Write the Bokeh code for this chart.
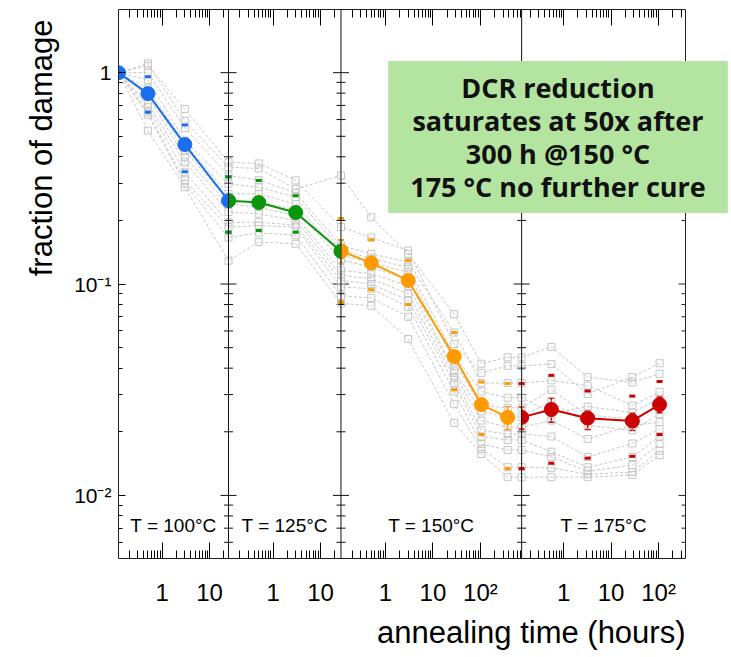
import math
from bokeh.plotting import figure
from bokeh.models import (Range1d, FixedTicker, LinearAxis, Span, Label, Title,
                          Whisker, ColumnDataSource, TeeHead)
from bokeh.embed import file_html
from bokeh.resources import INLINE

# ---------------- data ----------------
panel_labels = ["T = 100°C", "T = 125°C", "T = 150°C", "T = 175°C"]
panel_colors = ["#1a6ff0", "#0a960a", "#ff9a00", "#cc0000"]
panel_t_min = [0.12, 0.115, 0.115, 0.13]   # hours, start of each panel's time axis
panel_t_max = [25, 27, 740, 370]           # hours, end of each panel's time axis

# mean fraction of damage per temperature step (t = 0 is start of the step)
t100 = [0, 0.5, 3, 25]
m100 = [1.0, 0.796, 0.457, 0.248]
lo100 = [1.0, 0.77, 0.44, 0.238]
hi100 = [1.0, 0.82, 0.475, 0.258]
s_lo100 = [1.0, 0.649, 0.340, 0.176]
s_hi100 = [1.0, 0.957, 0.566, 0.322]

t125 = [0, 0.5, 3, 27]
m125 = [0.248, 0.243, 0.218, 0.143]
lo125 = [0.238, 0.234, 0.210, 0.125]
hi125 = [0.258, 0.253, 0.227, 0.162]
s_lo125 = [0.176, 0.179, 0.176, 0.082]
s_hi125 = [0.322, 0.309, 0.262, 0.204]

t150 = [0, 0.5, 3, 28, 105, 375]
m150 = [0.143, 0.126, 0.104, 0.0454, 0.0269, 0.0234]
lo150 = [0.125, 0.121, 0.100, 0.0430, 0.0255, 0.0205]
hi150 = [0.162, 0.131, 0.108, 0.0480, 0.0285, 0.0263]
s_lo150 = [0.082, 0.094, 0.080, 0.0316, 0.0194, 0.0134]
s_hi150 = [0.204, 0.162, 0.129, 0.059, 0.0344, 0.0338]

t175 = [0, 0.55, 3.2, 28, 105]
m175 = [0.0234, 0.0255, 0.0232, 0.0225, 0.0269]
lo175 = [0.0206, 0.0222, 0.0205, 0.0203, 0.0246]
hi175 = [0.0262, 0.0289, 0.0252, 0.0245, 0.0292]
s_lo175 = [0.0134, 0.0142, 0.0150, 0.0153, 0.0194]
s_hi175 = [0.0338, 0.0370, 0.0312, 0.0295, 0.0346]

# individual devices (grey): measurement stages
stage_panel = [0, 0, 0, 0, 1, 1, 1, 2, 2, 2, 2, 2, 3, 3, 3, 3, 3]
stage_time = [0, 0.5, 3, 25, 0.5, 3, 27, 0.5, 3, 28, 105, 375, 0, 0.55, 3.2, 28, 105]
dev01 = [1.0, 1.106, 0.593, 0.357, 0.352, 0.282, 0.326, 0.207, 0.139, 0.072, 0.042, 0.045, 0.045, 0.0504, 0.0363, 0.0343, 0.0376]
dev02 = [1.0, 1.079, 0.673, 0.377, 0.372, 0.309, 0.186, 0.166, 0.144, 0.052, 0.038, 0.041, 0.041, 0.0418, 0.0302, 0.0363, 0.0422]
dev03 = [1.0, 1.0, 0.548, 0.326, 0.310, 0.270, 0.152, 0.139, 0.127, 0.059, 0.034, 0.034, 0.034, 0.0350, 0.0331, 0.0266, 0.0309]
dev04 = [1.0, 0.924, 0.477, 0.298, 0.287, 0.258, 0.145, 0.132, 0.120, 0.046, 0.031, 0.029, 0.029, 0.0245, 0.0263, 0.0247, 0.0287]
dev05 = [1.0, 0.843, 0.460, 0.267, 0.267, 0.239, 0.137, 0.126, 0.114, 0.043, 0.0266, 0.026, 0.026, 0.0316, 0.0240, 0.0230, 0.0265]
dev06 = [1.0, 0.800, 0.428, 0.248, 0.245, 0.225, 0.130, 0.120, 0.105, 0.039, 0.025, 0.0235, 0.0235, 0.0280, 0.0215, 0.0203, 0.0243]
dev07 = [1.0, 0.778, 0.398, 0.239, 0.231, 0.210, 0.116, 0.112, 0.098, 0.038, 0.0226, 0.0210, 0.0210, 0.0226, 0.0185, 0.0215, 0.0222]
dev08 = [1.0, 0.713, 0.377, 0.219, 0.215, 0.200, 0.110, 0.106, 0.090, 0.036, 0.0203, 0.0195, 0.0195, 0.0190, 0.0152, 0.0176, 0.0206]
dev09 = [1.0, 0.686, 0.338, 0.196, 0.196, 0.190, 0.104, 0.100, 0.084, 0.034, 0.0190, 0.0183, 0.0183, 0.0161, 0.0136, 0.0152, 0.0190]
dev10 = [1.0, 0.649, 0.309, 0.186, 0.189, 0.186, 0.097, 0.095, 0.078, 0.031, 0.0175, 0.0164, 0.0164, 0.0152, 0.0130, 0.0139, 0.0175]
dev11 = [1.0, 0.633, 0.298, 0.166, 0.175, 0.170, 0.088, 0.086, 0.070, 0.027, 0.0166, 0.0136, 0.0136, 0.0135, 0.0126, 0.0129, 0.0163]
dev12 = [1.0, 0.532, 0.287, 0.129, 0.158, 0.155, 0.081, 0.079, 0.055, 0.022, 0.0157, 0.0122, 0.0122, 0.0122, 0.0122, 0.0125, 0.0155]

x_tick_values = [1, 10, 100]
x_tick_text = ["1", "10", "10²"]
y_tick_values = [0.01, 0.1, 1]
y_tick_text = ["10⁻²", "10⁻¹", "1"]
y_min, y_max = 0.00503, 1.99

annotation = "DCR reduction\nsaturates at 50x after\n300 h @150 °C\n175 °C no further cure"
x_title = "annealing time (hours)"
y_title = "fraction of damage"

# ---------------- layout constants ----------------
LEFT, TOP, PLOT_W, PLOT_H = 118, 9, 567, 549
CANVAS_W, CANVAS_H = 731, 657
FRAME_W = CANVAS_W - LEFT          # frame runs to canvas edge so the note box can overhang

# ---------------- composite log-time axis (one log axis per panel) ----------------
offsets, starts, ends = [], [], []
cum = 0.0
for lo, hi in zip(panel_t_min, panel_t_max):
    starts.append(cum)
    offsets.append(cum - math.log10(lo))
    cum += math.log10(hi / lo)
    ends.append(cum)
x_total = cum
x_view_end = x_total * FRAME_W / PLOT_W


def cx(panel, t):
    return offsets[panel] + math.log10(max(t, panel_t_min[panel]))


p = figure(frame_width=FRAME_W, frame_height=PLOT_H,
           min_border_left=LEFT, min_border_right=0, min_border_top=TOP,
           min_border_bottom=CANVAS_H - TOP - PLOT_H,
           x_range=Range1d(0, x_view_end), y_range=Range1d(y_min, y_max),
           y_axis_type="log", output_backend="svg", toolbar_location=None)
p.xgrid.visible = False
p.ygrid.visible = False
p.outline_line_color = None
p.background_fill_color = "white"
p.border_fill_color = "white"

AXC = "#222222"
AX_FONT = "Liberation Sans"

# x ticks
x_major, x_minor, x_over = [], [], {}
for i in range(4):
    for v, txt in zip(x_tick_values, x_tick_text):
        if panel_t_min[i] <= v <= panel_t_max[i]:
            pos = cx(i, v)
            x_major.append(pos)
            x_over[pos] = txt
    for k in range(-2, 4):
        for m in range(2, 10):
            v = m * 10 ** k
            if panel_t_min[i] < v < panel_t_max[i]:
                x_minor.append(cx(i, v))

y_minor = []
for k in range(-3, 1):
    for m in range(2, 10):
        v = m * 10 ** k
        if y_min < v < y_max:
            y_minor.append(v)

xa = p.xaxis[0]
xa.ticker = FixedTicker(ticks=x_major, minor_ticks=x_minor)
xa.bounds = (0, x_total)
xa.major_label_overrides = x_over
xa.major_tick_in, xa.major_tick_out = 16, 0
xa.minor_tick_in, xa.minor_tick_out = 8, 0
xa.major_label_standoff = 20
xa.major_label_text_font = AX_FONT
xa.major_label_text_font_size = "24px"
xa.major_label_text_color = "black"
xa.axis_line_color = AXC

top = LinearAxis(ticker=FixedTicker(ticks=x_major, minor_ticks=x_minor), bounds=(0, x_total),
                 major_label_overrides={k: "" for k in x_major},
                 major_tick_in=16, major_tick_out=0, minor_tick_in=8, minor_tick_out=0,
                 major_label_standoff=0, axis_line_color=AXC)
p.add_layout(top, "above")

ya = p.yaxis[0]
ya.ticker = FixedTicker(ticks=y_tick_values, minor_ticks=y_minor)
ya.major_label_overrides = dict(zip(y_tick_values, y_tick_text))
ya.major_tick_in, ya.major_tick_out = 7, 0
ya.minor_tick_in, ya.minor_tick_out = 4, 0
ya.major_label_standoff = 7
ya.major_label_text_font = AX_FONT
ya.major_label_text_font_size = "21px"
ya.major_label_text_color = "black"
ya.axis_line_color = AXC

# panel separators (crossing ticks) and right border (inward ticks)
for b in ends[:-1]:
    p.add_layout(Span(location=b, dimension="height", line_color="#111111", line_width=1))
    p.scatter([b] * len(y_tick_values), y_tick_values, marker="dash", size=16,
              line_color="#111111", line_width=1)
    p.scatter([b] * len(y_minor), y_minor, marker="dash", size=9,
              line_color="#111111", line_width=1)
p.add_layout(Span(location=x_total, dimension="height", line_color=AXC, line_width=1))
p.ray([x_total] * len(y_tick_values), y_tick_values, length=7, length_units="screen",
      angle=180, angle_units="deg", line_color=AXC, line_width=1)
p.ray([x_total] * len(y_minor), y_minor, length=4, length_units="screen",
      angle=180, angle_units="deg", line_color=AXC, line_width=1)

# grey individual devices
devices = [dev01, dev02, dev03, dev04, dev05, dev06, dev07, dev08, dev09, dev10, dev11, dev12]
stage_x = [cx(pn, t) for pn, t in zip(stage_panel, stage_time)]
GREY = "#c6c6c6"
for d in devices:
    p.line(stage_x, d, line_color=GREY, line_dash="3 2", line_width=1)
for d in devices:
    p.scatter(stage_x, d, marker="square", size=7, fill_color=None,
              line_color=GREY, line_width=1)

# mean curves
panels = [
    (t100, m100, lo100, hi100, s_lo100, s_hi100),
    (t125, m125, lo125, hi125, s_lo125, s_hi125),
    (t150, m150, lo150, hi150, s_lo150, s_hi150),
    (t175, m175, lo175, hi175, s_lo175, s_hi175),
]
for i, (ts, ms, los, his, slo, shi) in enumerate(panels):
    col = panel_colors[i]
    xs = [cx(i, t) for t in ts]
    p.rect(xs, slo, width=6, height=3, width_units="screen", height_units="screen",
           fill_color=col, line_color=None)
    p.rect(xs, shi, width=6, height=3, width_units="screen", height_units="screen",
           fill_color=col, line_color=None)
    src = ColumnDataSource(dict(x=xs, lo=los, hi=his))
    p.add_layout(Whisker(source=src, base="x", lower="lo", upper="hi", dimension="height",
                         line_color=col, line_width=1.5,
                         upper_head=TeeHead(size=6, line_color=col, line_width=1.5),
                         lower_head=TeeHead(size=6, line_color=col, line_width=1.5)))
    p.line(xs, ms, line_color=col, line_width=2)
    # first point sits on the panel's left edge: only its right half shows
    p.wedge([xs[0]], [ms[0]], radius=7, radius_units="screen",
            start_angle=-90, end_angle=90, start_angle_units="deg", end_angle_units="deg",
            fill_color=col, line_color=col)
    p.scatter(xs[1:], ms[1:], size=14, fill_color=col, line_color=col)
    p.add_layout(Label(x=(starts[i] + ends[i]) / 2, x_units="data", y=33, y_units="screen",
                       text=panel_labels[i], text_align="center", text_baseline="alphabetic",
                       text_font=AX_FONT, text_font_size="19px", text_color="black"))

# axis titles
p.add_layout(Title(text=x_title, align="right", offset=(FRAME_W - PLOT_W), standoff=8,
                   text_font=AX_FONT, text_font_size="31px", text_font_style="normal",
                   text_color="black"), "below")
p.add_layout(Title(text=y_title, align="right", offset=10, standoff=25,
                   text_font=AX_FONT, text_font_size="31px", text_font_style="normal",
                   text_color="black"), "left")

# annotation box
p.add_layout(Label(x=439.5, y=421.5, x_units="screen", y_units="screen", text=annotation,
                   text_align="center", text_baseline="middle",
                   text_font="Open Sans", text_font_style="bold", text_font_size="27px",
                   text_color="#111111", text_line_height=0.89,
                   background_fill_color="#b3e5a1",
                   padding=dict(left=22, right=22, top=8, bottom=8)))

open("out.html", "w").write(file_html(p, INLINE))
